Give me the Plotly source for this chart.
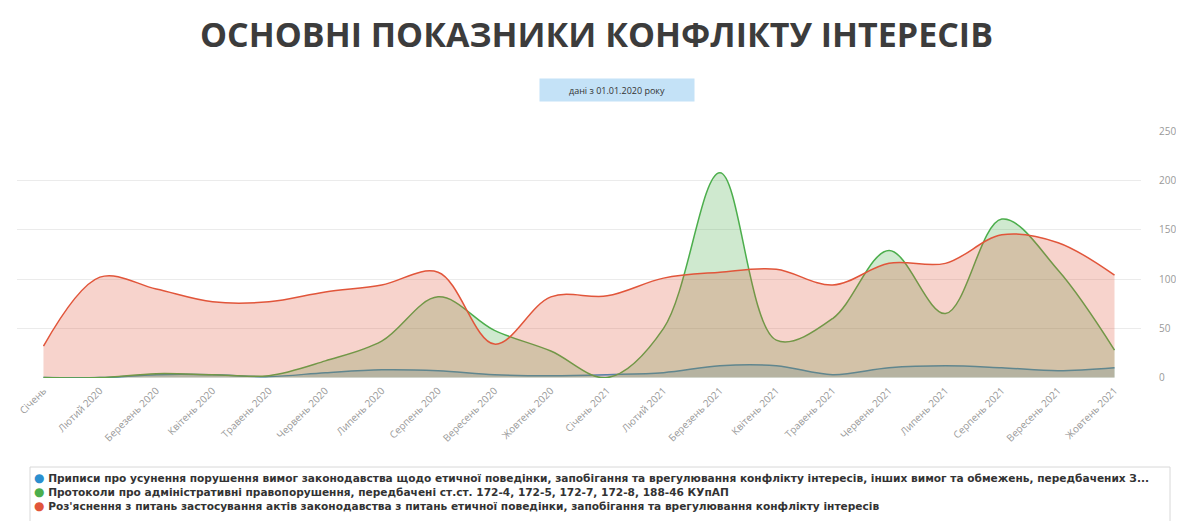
import plotly.graph_objects as go

# ---------------- data ----------------
categories = ["Січень", "Лютий 2020", "Березень 2020", "Квітень 2020", "Травень 2020",
              "Червень 2020", "Липень 2020", "Серпень 2020", "Вересень 2020", "Жовтень 2020",
              "Січень 2021", "Лютий 2021", "Березень 2021", "Квітень 2021", "Травень 2021",
              "Червень 2021", "Липень 2021", "Серпень 2021", "Вересень 2021", "Жовтень 2021"]

series_names = [
    "Приписи про усунення порушення вимог законодавства щодо етичної поведінки, запобігання та врегулювання конфлікту інтересів, інших вимог та обмежень, передбачених З...",
    "Протоколи про адміністративні правопорушення, передбачені ст.ст. 172-4, 172-5, 172-7, 172-8, 188-46 КУпАП",
    "Роз'яснення з питань застосування актів законодавства з питань етичної поведінки, запобігання та врегулювання конфлікту інтересів",
]

pryp_values = [0, 0, 3, 3, 1, 5, 8, 7, 3, 2, 3, 5, 12, 12, 3, 10, 12, 10, 7, 10]
prot_values = [0, 0, 4, 3, 2, 17, 37, 82, 48, 27, 0, 50, 208, 38, 60, 129, 65, 161, 109, 28]
rozj_values = [32, 102, 90, 77, 77, 87, 94, 107, 34, 82, 83, 101, 107, 110, 94, 116, 116, 145, 137, 104]

y_ticks = [0, 50, 100, 150, 200, 250]

title_text = "ОСНОВНІ ПОКАЗНИКИ КОНФЛІКТУ ІНТЕРЕСІВ"
subtitle_text = "дані з 01.01.2020 року"

# ---------------- styling ----------------
OFF = 8                      # page body margin offset
W, H = 1184 - OFF, 521 - OFF
L, R, T, B = 17 - OFF, 43, 131 - OFF, 143
FONT = "Open Sans"

line_colors = ["#2b8fcf", "#4cae4c", "#e1553a"]
fill_colors = ["rgba(43,143,207,0.25)", "rgba(76,174,76,0.27)", "rgba(225,85,58,0.26)"]

plot_w = W - L - R
plot_h = H - T - B


def px_x(px):
    return (px - OFF - L) / plot_w


def px_y(py):
    return (H - B - (py - OFF)) / plot_h


fig = go.Figure()
for name, vals, lc, fc in zip(series_names, [pryp_values, prot_values, rozj_values],
                              line_colors, fill_colors):
    fig.add_trace(go.Scatter(
        x=categories, y=vals, name=name, mode="lines",
        line=dict(color=lc, width=1.5, shape="spline", smoothing=1.0),
        fill="tozeroy", fillcolor=fc, showlegend=False, hoverinfo="skip",
    ))

legend_text = "<br>".join(
    f'<span style="color:{c};font-size:12px">●</span> {name}'
    for name, c in zip(series_names, line_colors)
)

annotations = [
    dict(text=subtitle_text, xref="paper", yref="paper", x=px_x(616.5), y=px_y(89.5),
         xanchor="center", yanchor="middle", showarrow=False,
         font=dict(family=FONT, size=9, color="#333333"),
         bgcolor="#c4e2f7", width=152, height=20, borderpad=1),
    dict(text=legend_text, xref="paper", yref="paper", x=px_x(32), y=px_y(491.5),
         xanchor="left", yanchor="middle", align="left", showarrow=False,
         font=dict(family="DejaVu Sans", size=10.6, color="#333333", weight=700)),
]

shapes = [dict(type="rect", xref="paper", yref="paper",
               x0=px_x(30), x1=px_x(1170), y0=px_y(540), y1=px_y(467),
               line=dict(color="#d8d8d8", width=1), fillcolor="rgba(0,0,0,0)", layer="below")]

fig.update_layout(
    width=W, height=H,
    margin=dict(l=L, r=R, t=T, b=B, autoexpand=False),
    paper_bgcolor="white", plot_bgcolor="white",
    font=dict(family=FONT, color="#8a8a8a"),
    title=dict(text=title_text, x=(596.5 - OFF) / W, xanchor="center", xref="container",
               y=1 - (35 - OFF) / H, yanchor="middle", yref="container",
               font=dict(family=FONT, size=34, color="#3c3c3c", weight=700)),
    xaxis=dict(range=[-0.47, len(categories) - 0.53], tickangle=-45, showgrid=False,
               zeroline=False, showline=False, ticks="", ticklabelstandoff=4,
               tickfont=dict(family=FONT, size=10, color="#999999")),
    yaxis=dict(range=[-0.4, 250.4], side="right", tickvals=y_ticks, showgrid=True,
               gridcolor="#ebebeb", gridwidth=1, zeroline=False, showline=False,
               ticklabelstandoff=17,
               tickfont=dict(family=FONT, size=10, color="#999999")),
    annotations=annotations,
    shapes=shapes,
    showlegend=False,
)

fig.write_html("out.html")
